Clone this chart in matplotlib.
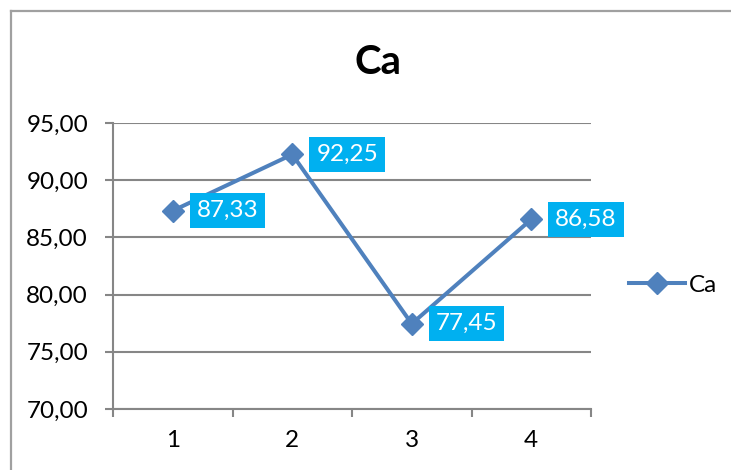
import matplotlib
matplotlib.use("Agg")
import matplotlib.pyplot as plt
from matplotlib.lines import Line2D

plt.rcParams['font.family'] = ['Lato', 'DejaVu Sans']

categories = [1, 2, 3, 4]
ca_values = [87.33, 92.25, 77.45, 86.58]
y_ticks = [70, 75, 80, 85, 90, 95]
series_name = "Ca"

line_color = "#4F81BD"
label_bg = "#00B0F0"
grid_color = "#868686"
text_size = 17.5

fig = plt.figure(figsize=(7.31, 4.70), dpi=100)
ax = fig.add_axes([113 / 731, 1 - 409 / 470, (591 - 113) / 731, (409 - 123) / 470])

x = list(range(len(categories)))
ax.plot(x, ca_values, color=line_color, lw=2.9, marker="D", markersize=11,
        markerfacecolor=line_color, markeredgecolor=line_color, zorder=3,
        solid_joinstyle="miter")

def fmt(v):
    return f"{v:.2f}".replace(".", ",")

for xi, v in zip(x, ca_values):
    ax.annotate(fmt(v), (xi, v), xytext=(24, 0), textcoords="offset pixels",
                ha="left", va="center", color="white", fontsize=text_size, zorder=4,
                bbox=dict(boxstyle="square,pad=0.28", fc=label_bg, ec="none"))

ax.set_xlim(-0.5, len(categories) - 0.5)
ax.set_ylim(min(y_ticks), max(y_ticks))
ax.set_yticks(y_ticks)
ax.set_yticklabels([fmt(t) for t in y_ticks], fontsize=text_size)
ax.yaxis.grid(True, color=grid_color, lw=1.5)
ax.set_axisbelow(True)

# category boundaries carry the tick marks, labels sit in the middle
ax.set_xticks([i - 0.5 for i in range(len(categories) + 1)])
ax.set_xticklabels([])
ax.set_xticks(x, minor=True)
ax.set_xticklabels([str(c) for c in categories], minor=True, fontsize=text_size)
ax.tick_params(axis="x", which="minor", length=0, pad=15)
ax.tick_params(axis="x", which="major", length=6, width=1.5, color=grid_color)
ax.tick_params(axis="y", length=6, width=1.5, color=grid_color, pad=12)

for side in ["top", "right"]:
    ax.spines[side].set_visible(False)
for side in ["left", "bottom"]:
    ax.spines[side].set_color(grid_color)
    ax.spines[side].set_linewidth(1.5)

fig.text(378 / 731, 1 - 63 / 470, "Ca", ha="center", va="center",
         fontsize=29, fontweight="bold")

handle = Line2D([], [], color=line_color, lw=2.9, marker="D", markersize=11)
fig.legend([handle], [series_name], loc="center left",
           bbox_to_anchor=(629 / 731, 1 - 285 / 470), frameon=False,
           borderpad=0, borderaxespad=0,
           fontsize=text_size, handlelength=2.3, handletextpad=0.15)

# outer chart frame
fig.add_artist(Line2D([11 / 731, 11 / 731], [0, 1 - 11 / 470], transform=fig.transFigure,
                      color="#A0A0A0", lw=1.6))
fig.add_artist(Line2D([11 / 731, 1], [1 - 11 / 470, 1 - 11 / 470], transform=fig.transFigure,
                      color="#A0A0A0", lw=1.6))

fig.savefig("out.png", dpi=100)
